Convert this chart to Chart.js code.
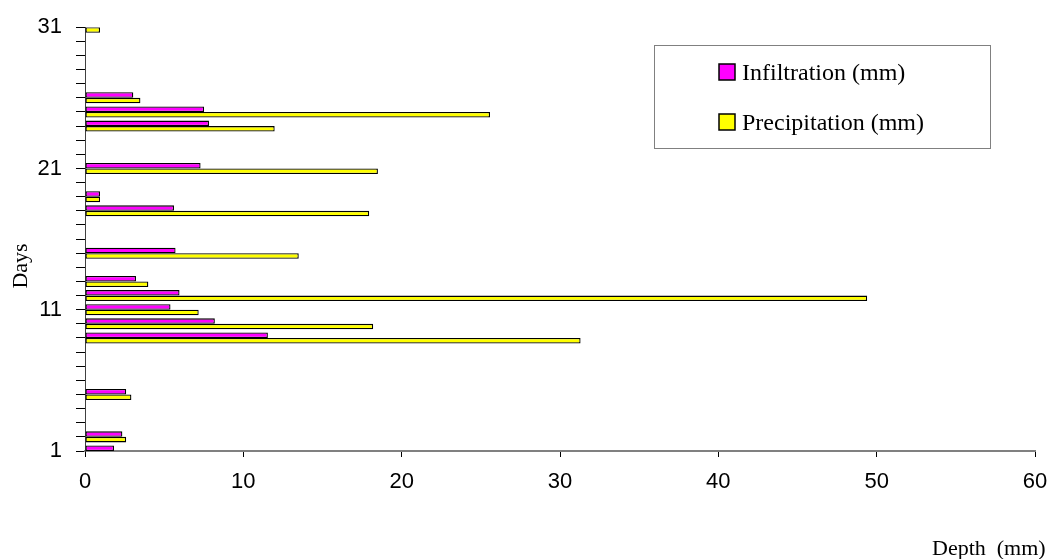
<!DOCTYPE html>
<html>
<head>
<meta charset="utf-8">
<title>Infiltration and precipitation</title>
<script src="https://cdn.jsdelivr.net/npm/chart.js@4.4.1/dist/chart.umd.min.js"></script>
<style>
  html, body { margin: 0; padding: 0; background: #fff; }
  #chart-container { position: relative; width: 1061px; height: 559px; }
</style>
</head>
<body>
<div id="chart-container"><canvas id="chart-canvas"></canvas></div>
<script>
// Daily depths (mm); days without a reading are left out
const days = [1, 2, 5, 9, 10, 11, 12, 13, 15, 18, 19, 21, 24, 25, 26, 31];
const infiltration = [1.83, 2.36, 2.6, 11.55, 8.2, 5.4, 5.97, 3.22, 5.72, 5.62, 0.95, 7.3, 7.83, 7.52, 3.05, null];
const precipitation = [null, 2.6, 2.93, 31.3, 18.2, 7.18, 49.4, 4.0, 13.5, 17.95, 0.95, 18.5, 11.98, 25.58, 3.5, 0.95];
const dayLabels = [1, 11, 21, 31];
const depthTicks = [0, 10, 20, 30, 40, 50, 60];

const seriesNames = ['Infiltration (mm)', 'Precipitation (mm)'];
const seriesColors = ['#ff00ff', '#ffff00'];

const sansFont = "'Liberation Sans', Arial, sans-serif";
const serifFont = "'Liberation Serif', 'Times New Roman', serif";

function toPoints(values) {
  return days.map((d, i) => ({ x: values[i], y: d }));
}

// Legend box and free-standing axis titles
const decorations = {
  id: 'decorations',
  afterDraw(chart) {
    const ctx = chart.ctx;
    ctx.save();

    // legend frame
    ctx.strokeStyle = '#808080';
    ctx.lineWidth = 1;
    ctx.strokeRect(654.5, 45.5, 336, 103);

    ctx.font = '24px ' + serifFont;
    ctx.textBaseline = 'alphabetic';
    ctx.textAlign = 'left';
    const rows = [80, 130];
    chart.data.datasets.forEach((ds, i) => {
      const base = rows[i];
      ctx.fillStyle = ds.backgroundColor;
      ctx.fillRect(719, base - 16, 16, 16);
      ctx.strokeStyle = '#000';
      ctx.lineWidth = 1.5;
      ctx.strokeRect(719, base - 16, 16, 16);
      ctx.fillStyle = '#000';
      ctx.fillText(ds.label, 742, base);
    });

    // x axis title
    ctx.font = '22px ' + serifFont;
    ctx.fillText('Depth  (mm)', 932, 555);

    // y axis title
    ctx.translate(27, 266);
    ctx.rotate(-Math.PI / 2);
    ctx.textAlign = 'center';
    ctx.fillText('Days', 0, 0);
    ctx.restore();
  }
};

const chartRef = document.getElementById('chart-canvas');

new Chart(chartRef, {
  type: 'bar',
  data: {
    datasets: seriesNames.map((name, i) => ({
      label: name,
      data: toPoints([infiltration, precipitation][i]),
      backgroundColor: seriesColors[i],
      borderColor: '#000',
      borderWidth: 1.3,
      borderSkipped: false,
      categoryPercentage: 0.78,
      barPercentage: 1,
      clip: 0
    }))
  },
  options: {
    indexAxis: 'y',
    responsive: true,
    maintainAspectRatio: false,
    animation: false,
    layout: { padding: { top: 21, right: 26, left: 0, bottom: 0 } },
    plugins: {
      legend: { display: false },
      tooltip: { enabled: false }
    },
    scales: {
      x: {
        type: 'linear',
        position: 'bottom',
        min: depthTicks[0],
        max: depthTicks[depthTicks.length - 1],
        afterFit: (scale) => { scale.height = 108; },
        afterBuildTicks: (scale) => { scale.ticks = depthTicks.map(v => ({ value: v })); },
        ticks: {
          color: '#000',
          font: { family: sansFont, size: 22 },
          padding: 12,
          maxRotation: 0
        },
        grid: {
          drawOnChartArea: false,
          drawTicks: true,
          tickLength: 6,
          color: '#000'
        },
        border: { display: true, color: '#808080', width: 2 }
      },
      y: {
        type: 'linear',
        position: 'left',
        min: 1,
        max: 31,
        offset: false,
        afterFit: (scale) => { scale.width = 85; },
        ticks: {
          stepSize: 1,
          autoSkip: false,
          color: '#000',
          font: { family: sansFont, size: 22 },
          padding: 14,
          callback: (v) => dayLabels.includes(v) ? String(v) : ''
        },
        grid: {
          offset: false,
          drawOnChartArea: false,
          drawTicks: true,
          tickLength: 9,
          color: '#000'
        },
        border: { display: true, color: '#404040', width: 1 }
      }
    }
  },
  plugins: [decorations]
});
</script>
</body>
</html>
